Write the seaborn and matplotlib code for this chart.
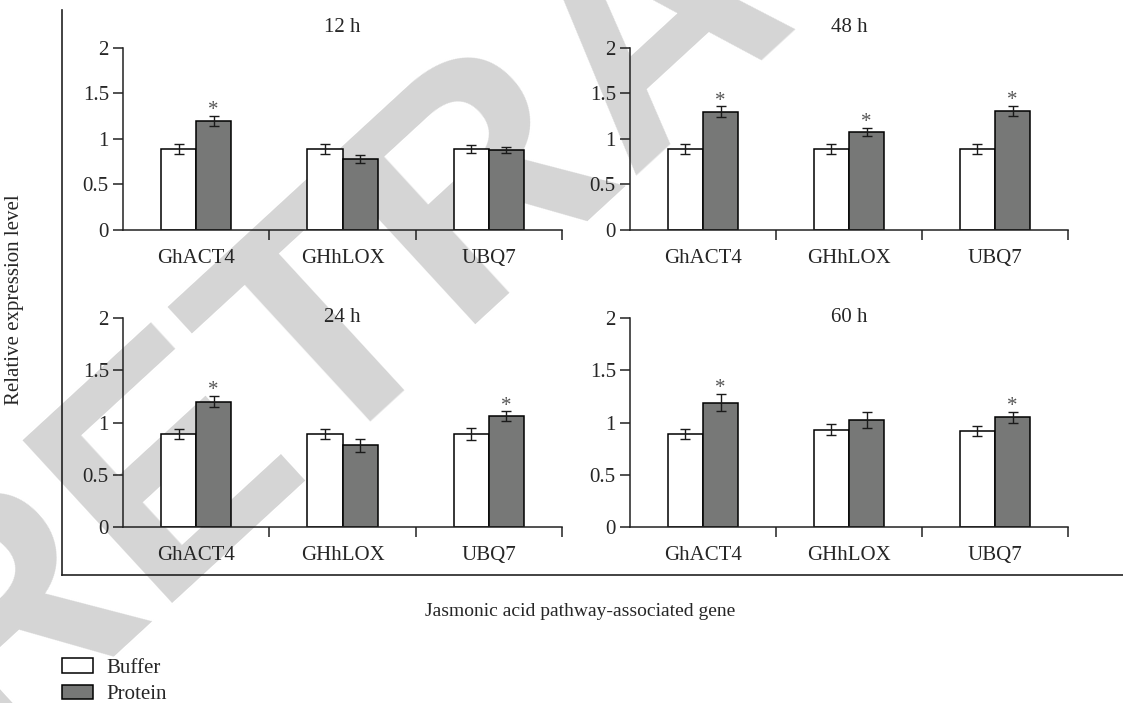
import numpy as np
import pandas as pd
import matplotlib
matplotlib.use("Agg")
import matplotlib.pyplot as plt
import seaborn as sns
from matplotlib.patches import Patch

# Datos
genes = ['GhACT4', 'GHhLOX', 'UBQ7']
tratamientos = ['Buffer', 'Protein']

buffer_12h = [0.89, 0.89, 0.89]
buffer_err_12h = [0.055, 0.055, 0.045]
protein_12h = [1.20, 0.78, 0.88]
protein_err_12h = [0.058, 0.04, 0.037]
sig_12h = [True, False, False]

buffer_48h = [0.89, 0.89, 0.89]
buffer_err_48h = [0.055, 0.055, 0.053]
protein_48h = [1.30, 1.08, 1.31]
protein_err_48h = [0.058, 0.046, 0.058]
sig_48h = [True, True, True]

buffer_24h = [0.89, 0.89, 0.89]
buffer_err_24h = [0.05, 0.048, 0.056]
protein_24h = [1.20, 0.78, 1.06]
protein_err_24h = [0.054, 0.064, 0.048]
sig_24h = [True, False, True]

buffer_60h = [0.89, 0.93, 0.92]
buffer_err_60h = [0.05, 0.051, 0.051]
protein_60h = [1.19, 1.02, 1.05]
protein_err_60h = [0.083, 0.077, 0.053]
sig_60h = [True, False, True]

yticks = [0, 0.5, 1, 1.5, 2]
ytick_labels = ['0', '0.5', '1', '1.5', '2']

colores = {'Buffer': 'white', 'Protein': '#777877'}

sns.set_style('ticks')
plt.rcParams['font.family'] = ['Liberation Serif', 'DejaVu Serif']
plt.rcParams['font.size'] = 15

W, H = 1123, 703
fig = plt.figure(figsize=(W / 100, H / 100), dpi=100)


def px(x0, y_top, x1, y_bot):
    return [x0 / W, 1 - y_bot / H, (x1 - x0) / W, (y_bot - y_top) / H]


# marca de agua
fig.text(-20 / W, 1 - 760 / H, 'RETRACTED', fontsize=232, fontweight='bold',
         family='Liberation Sans', color='#d5d5d5', rotation=42.6,
         rotation_mode='anchor', ha='left', va='baseline', zorder=-5)

# marco exterior en L
ax_out = fig.add_axes(px(62, 10, W + 5, 575))
ax_out.set_facecolor('none')
ax_out.set_xticks([])
ax_out.set_yticks([])
for s in ['top', 'right']:
    ax_out.spines[s].set_visible(False)
for s in ['left', 'bottom']:
    ax_out.spines[s].set_linewidth(1.2)
    ax_out.spines[s].set_color('#222222')

paneles = [
    ('12 h', px(123, 48, 562, 230), buffer_12h, buffer_err_12h, protein_12h, protein_err_12h, sig_12h, 1.115),
    ('48 h', px(630, 48, 1068, 230), buffer_48h, buffer_err_48h, protein_48h, protein_err_48h, sig_48h, 1.115),
    ('24 h', px(123, 318, 562, 527), buffer_24h, buffer_err_24h, protein_24h, protein_err_24h, sig_24h, 1.0),
    ('60 h', px(630, 318, 1068, 527), buffer_60h, buffer_err_60h, protein_60h, protein_err_60h, sig_60h, 1.0),
]

for titulo, pos, buf, buf_err, prot, prot_err, sig, ty in paneles:
    ax = fig.add_axes(pos)
    ax.set_facecolor('none')
    df = pd.DataFrame({
        'gen': genes * 2,
        'valor': buf + prot,
        'tratamiento': ['Buffer'] * 3 + ['Protein'] * 3,
    })
    sns.barplot(data=df, x='gen', y='valor', hue='tratamiento', hue_order=tratamientos,
                order=genes, palette=colores, edgecolor='black', linewidth=1.1,
                width=0.48, errorbar=None, legend=False, ax=ax)

    barras = sorted(ax.patches, key=lambda p: p.get_x())
    errores = []
    for i in range(3):
        errores += [buf_err[i], prot_err[i]]
    xs = [p.get_x() + p.get_width() / 2 for p in barras]
    ys = [p.get_height() for p in barras]
    ax.errorbar(xs, ys, yerr=errores, fmt='none', ecolor='#1a1a1a',
                elinewidth=1.0, capsize=3.6, capthick=1.0, zorder=4)

    for i in range(3):
        if sig[i]:
            j = 2 * i + 1
            ax.text(xs[j], ys[j] + errores[j] + 0.005, '*', ha='center',
                    va='baseline', color='#555555', fontsize=15)

    ax.set_xlim(-0.5, 2.5)
    ax.set_ylim(0, 2)
    ax.set_yticks(yticks)
    ax.set_yticklabels(ytick_labels)
    ax.set_xticks(range(3))
    ax.set_xticklabels(genes)
    ax.set_xticks([0.5, 1.5, 2.5], minor=True)
    ax.tick_params(axis='x', which='major', length=0, pad=14, labelsize=15)
    ax.tick_params(axis='x', which='minor', length=7.5, width=1.1, direction='out', color='#222222')
    ax.tick_params(axis='y', length=7.2, width=1.1, pad=3, labelsize=15, color='#222222')
    ax.set_xlabel('')
    ax.set_ylabel('')
    for s in ['top', 'right']:
        ax.spines[s].set_visible(False)
    for s in ['left', 'bottom']:
        ax.spines[s].set_linewidth(1.1)
        ax.spines[s].set_color('#222222')
    ax.text(0.5, ty, titulo, transform=ax.transAxes, ha='center', va='center', fontsize=15)

fig.text(15 / W, 1 - 300 / H, 'Relative expression level', rotation=90,
         ha='center', va='center', fontsize=15)
fig.text(580 / W, 1 - 612 / H, 'Jasmonic acid pathway-associated gene',
         ha='center', va='center', fontsize=14)

handles = [Patch(facecolor=colores[t], edgecolor='black', linewidth=1.1, label=t)
           for t in tratamientos]
fig.legend(handles=handles, loc='upper left', bbox_to_anchor=(62 / W, 1 - 658 / H),
           frameon=False, borderpad=0, borderaxespad=0, fontsize=15,
           handlelength=1.5, handleheight=0.7, handletextpad=0.65, labelspacing=0.35)

fig.savefig('out.png', dpi=100)
